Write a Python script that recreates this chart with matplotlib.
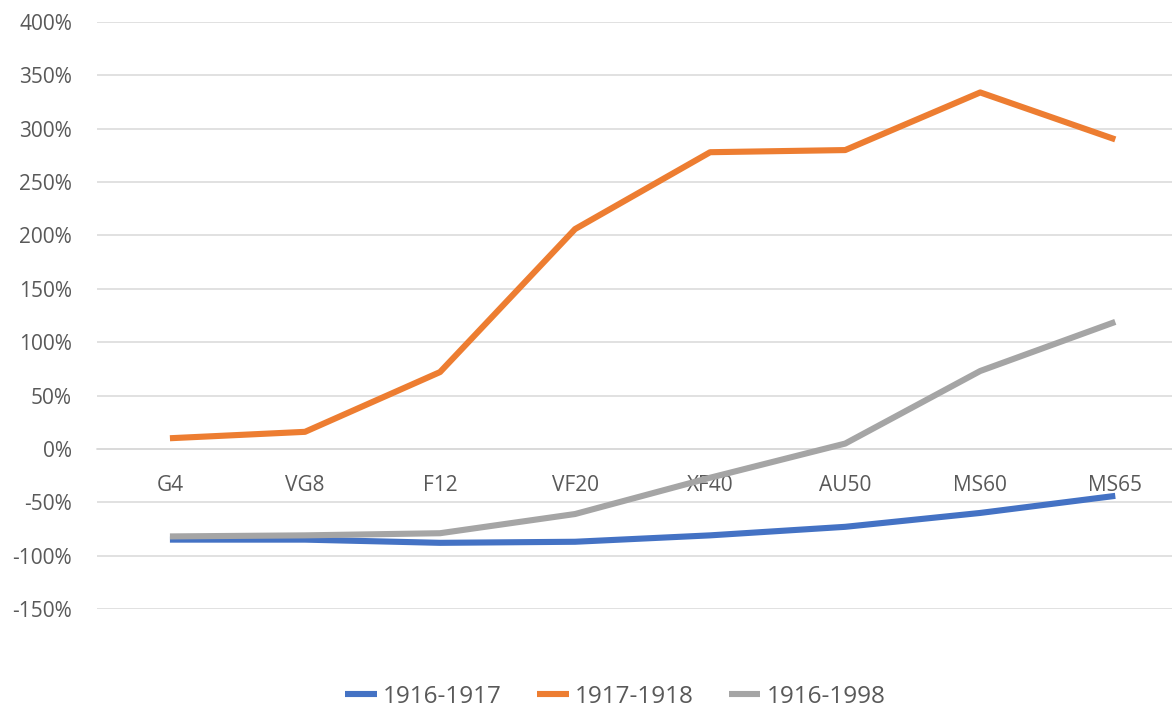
import matplotlib
matplotlib.use("Agg")
from matplotlib import pyplot as plt
from matplotlib.ticker import FuncFormatter

grades = ["G4", "VG8", "F12", "VF20", "XF40", "AU50", "MS60", "MS65"]
s1916_1917 = [-85, -85, -88, -87, -81, -73, -60, -44]
s1917_1918 = [10, 16, 72, 206, 278, 280, 334, 290]
s1916_1998 = [-82, -81, -79, -61, -27, 5, 73, 119]

series = [("1916-1917", s1916_1917, "#4472C4"),
          ("1917-1918", s1917_1918, "#ED7D31"),
          ("1916-1998", s1916_1998, "#A5A5A5")]

plt.rcParams["font.family"] = ["Open Sans", "DejaVu Sans"]
txt = "#595959"

fig = plt.figure(figsize=(11.72, 7.15), dpi=100)
ax = fig.add_axes([97 / 1172, 1 - 609 / 715, 1075 / 1172, (609 - 22) / 715])

x = list(range(len(grades)))
for name, vals, col in series:
    ax.plot(x, vals, color=col, lw=4.4, label=name, solid_capstyle="butt",
            solid_joinstyle="round")

ax.set_ylim(-150, 400)
ax.set_yticks(range(-150, 401, 50))
ax.yaxis.set_major_formatter(FuncFormatter(lambda v, p: f"{int(v)}%"))
ax.set_xlim(-0.54, 7.42)
ax.set_xticks(x)
ax.set_xticklabels(grades)

ax.grid(axis="y", color="#D9D9D9", lw=1.1)
ax.set_axisbelow(True)
for s in ["top", "right", "left"]:
    ax.spines[s].set_visible(False)
ax.spines["bottom"].set_position(("data", 0))
ax.spines["bottom"].set_color("#D9D9D9")
ax.spines["bottom"].set_linewidth(1.1)
ax.spines["bottom"].set_zorder(0)

ax.tick_params(axis="y", length=0, pad=18, labelsize=15, labelcolor=txt)
ax.tick_params(axis="x", length=0, pad=19, labelsize=15, labelcolor=txt)

fig.legend(loc="lower center", bbox_to_anchor=(0.525, -0.022), ncol=3,
           frameon=False, fontsize=17.5, handlelength=1.3, handletextpad=0.25,
           columnspacing=1.45, labelcolor=txt)

fig.savefig("out.png", dpi=100)
